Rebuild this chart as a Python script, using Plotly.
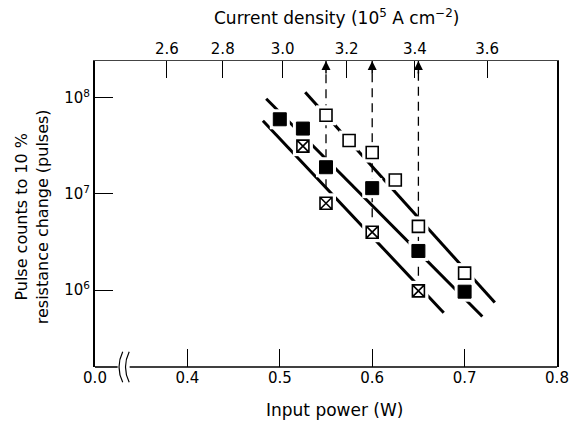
import plotly.graph_objects as go

# ---- axis ticks -------------------------------------------------------
power_tick_vals = [0.3, 0.4, 0.5, 0.6, 0.7, 0.8]
power_tick_text = ["0.0", "0.4", "0.5", "0.6", "0.7", "0.8"]
density_ticks = [2.6, 2.8, 3.0, 3.2, 3.4, 3.6]          # 10^5 A cm^-2
K_POWER = 0.0559                                        # W per (10^5 A/cm2)^2
y_tick_vals = [1e6, 1e7, 1e8]
y_tick_text = ["10<sup>6</sup>", "10<sup>7</sup>", "10<sup>8</sup>"]

# ---- data -------------------------------------------------------------
open_x = [0.55, 0.575, 0.60, 0.625, 0.65, 0.70]
open_y = [6.6e7, 3.6e7, 2.7e7, 1.4e7, 4.6e6, 1.5e6]
filled_x = [0.50, 0.525, 0.55, 0.60, 0.65, 0.70]
filled_y = [6.0e7, 4.8e7, 1.9e7, 1.15e7, 2.55e6, 9.6e5]
crossed_x = [0.525, 0.55, 0.60, 0.65]
crossed_y = [3.15e7, 8.0e6, 4.0e6, 9.8e5]

# fitted straight lines (end points)
fit_open_x = [0.5275, 0.7327]
fit_open_y = [1.15e8, 7.4e5]
fit_filled_x = [0.4853, 0.7192]
fit_filled_y = [9.8e7, 5.3e5]
fit_crossed_x = [0.4817, 0.6774]
fit_crossed_y = [5.8e7, 5.8e5]

arrow_x = [0.55, 0.60, 0.65]
arrow_from_y = [8.0e6, 4.0e6, 9.8e5]
Y_TOP_LOG = 8.385
Y_BOTTOM_LOG = 5.198

FONT = "DejaVu Sans"

fig = go.Figure()

for fx, fy in [(fit_open_x, fit_open_y), (fit_filled_x, fit_filled_y),
               (fit_crossed_x, fit_crossed_y)]:
    fig.add_trace(go.Scatter(x=fx, y=fy, mode="lines",
                             line=dict(color="black", width=3),
                             showlegend=False, hoverinfo="skip"))

for ax_, ay_ in zip(arrow_x, arrow_from_y):
    fig.add_trace(go.Scatter(x=[ax_, ax_], y=[ay_, 10 ** Y_TOP_LOG],
                             mode="lines",
                             line=dict(color="black", width=1.3, dash="9px,6px"),
                             showlegend=False, hoverinfo="skip"))

# white underlay to create gaps in lines around the symbols
fig.add_trace(go.Scatter(x=open_x + filled_x + crossed_x,
                         y=open_y + filled_y + crossed_y, mode="markers",
                         marker=dict(symbol="square", size=20, color="white",
                                     line=dict(width=0)),
                         showlegend=False, hoverinfo="skip"))

fig.add_trace(go.Scatter(x=open_x, y=open_y, mode="markers", name="open",
                         marker=dict(symbol="square", size=12, color="white",
                                     line=dict(color="black", width=1.6)),
                         showlegend=False))
fig.add_trace(go.Scatter(x=filled_x, y=filled_y, mode="markers", name="filled",
                         marker=dict(symbol="square", size=13, color="black",
                                     line=dict(color="black", width=1)),
                         showlegend=False))
fig.add_trace(go.Scatter(x=crossed_x, y=crossed_y, mode="markers", name="crossed",
                         marker=dict(symbol="square-x", size=12, color="white",
                                     line=dict(color="black", width=1.6)),
                         showlegend=False))

# invisible trace so the top (current density) axis is attached to data
fig.add_trace(go.Scatter(x=arrow_x, y=arrow_from_y, xaxis="x2", mode="markers",
                         marker=dict(opacity=0), showlegend=False,
                         hoverinfo="skip"))

# arrow heads at the top axis
annotations = []
for ax_ in arrow_x:
    annotations.append(dict(x=ax_, xref="x", y=1, yref="paper", text="",
                            showarrow=True, ax=0, ay=14, arrowhead=2,
                            arrowsize=1.2, arrowwidth=1.5, arrowcolor="black"))

annotations += [
    dict(x=0.522, y=1.144, xref="paper", yref="paper", showarrow=False,
         yanchor="middle", xanchor="center",
         text="Current density (10<sup>5</sup> A cm<sup>−2</sup>)",
         font=dict(family=FONT, size=17, color="black")),
    dict(x=0.519, y=-0.14, xref="paper", yref="paper", showarrow=False,
         yanchor="middle", xanchor="center",
         text="Input power (W)",
         font=dict(family=FONT, size=17, color="black")),
    dict(x=-0.136, y=0.49, xref="paper", yref="paper", showarrow=False,
         xanchor="center", yanchor="middle",
         textangle=-90,
         text="Pulse counts to 10 %<br>resistance change (pulses)",
         font=dict(family=FONT, size=16, color="black")),
]

# bottom axis line with break, and break marks
b0, b1 = 0.049, 0.075
shapes = [
    dict(type="line", xref="paper", yref="paper", x0=0, x1=b0, y0=0, y1=0,
         line=dict(color="black", width=1.6)),
    dict(type="line", xref="paper", yref="paper", x0=b1, x1=1, y0=0, y1=0,
         line=dict(color="black", width=1.6)),
]
for bx in [0.054, 0.068]:
    shapes.append(dict(type="path", xref="paper", yref="paper",
                       path=f"M {bx+0.006},0.05 Q {bx-0.01},0 {bx+0.006},-0.05",
                       line=dict(color="black", width=1.2)))

fig.update_layout(
    width=581, height=429,
    margin=dict(l=95, r=20, t=61, b=62),
    paper_bgcolor="white", plot_bgcolor="white",
    font=dict(family=FONT, size=15, color="black"),
    showlegend=False,
    annotations=annotations,
    shapes=shapes,
    xaxis=dict(range=[0.3, 0.8], tickmode="array", tickvals=power_tick_vals,
               ticktext=power_tick_text, ticks="inside", ticklen=18,
               tickwidth=1, tickcolor="black", showline=False,
               showgrid=False, zeroline=False,
               tickfont=dict(family=FONT, size=15, color="black")),
    xaxis2=dict(range=[0.3, 0.8], overlaying="x", side="top",
                tickmode="array",
                tickvals=[K_POWER * j * j for j in density_ticks],
                ticktext=[f"{j:.1f}" for j in density_ticks],
                ticks="inside", ticklen=17, tickwidth=1, tickcolor="black",
                showline=True, linecolor="#444", linewidth=1,
                showgrid=False, zeroline=False,
                tickfont=dict(family=FONT, size=15, color="black")),
    yaxis=dict(type="log", range=[Y_BOTTOM_LOG, Y_TOP_LOG], tickmode="array",
               tickvals=y_tick_vals, ticktext=y_tick_text,
               ticks="inside", ticklen=18, tickwidth=1, tickcolor="black",
               showline=True, linecolor="black", linewidth=2, mirror=True,
               showgrid=False, zeroline=False,
               tickfont=dict(family=FONT, size=15, color="black")),
)

fig.write_html("out.html")
